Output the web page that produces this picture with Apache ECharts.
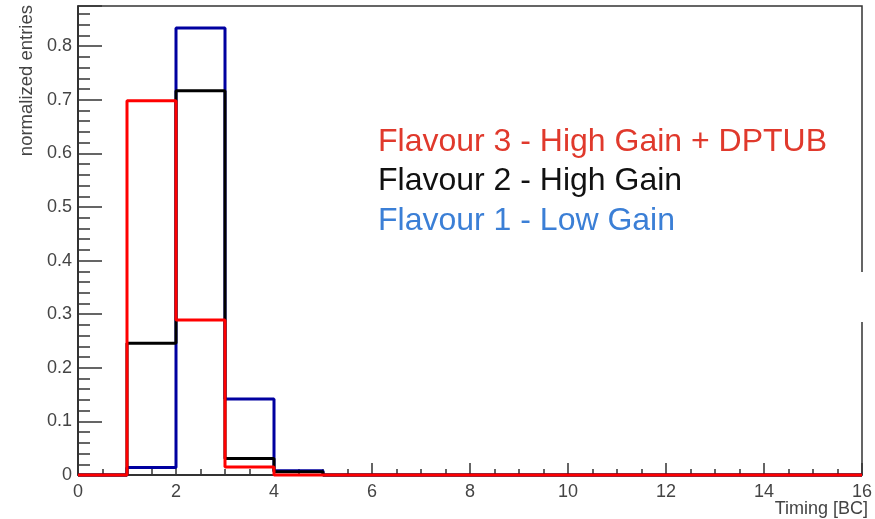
<!DOCTYPE html>
<html>
<head>
<meta charset="utf-8">
<script src="https://cdn.jsdelivr.net/npm/echarts@6/dist/echarts.min.js"></script>
<style>html,body{margin:0;padding:0;background:#fff;}#c{width:875px;height:519px;}</style>
</head>
<body>
<div id="c"></div>
<script>
// bin edges 0..16 (Timing [BC]), one value per bin
const binEdges = [0,1,2,3,4,5,6,7,8,9,10,11,12,13,14,15,16];
const flavour1 = [0, 0.014, 0.834, 0.142, 0.008, 0, 0, 0, 0, 0, 0, 0, 0, 0, 0, 0];
const flavour2 = [0, 0.246, 0.717, 0.031, 0.006, 0, 0, 0, 0, 0, 0, 0, 0, 0, 0, 0];
const flavour3 = [0, 0.698, 0.289, 0.015, 0, 0, 0, 0, 0, 0, 0, 0, 0, 0, 0, 0];
const seriesNames = ['Flavour 1 - Low Gain', 'Flavour 2 - High Gain', 'Flavour 3 - High Gain + DPTUB'];
const lineColors = ['#0000a0', '#000000', '#ff0000'];
const textColors = ['#3b7fd6', '#111111', '#e0392c'];
const xTicks = [0, 2, 4, 6, 8, 10, 12, 14, 16];
const xTitle = 'Timing [BC]';
const yTitle = 'normalized entries';

function toSteps(vals) {
  const pts = vals.map((v, i) => [binEdges[i], v]);
  pts.push([binEdges[binEdges.length - 1], vals[vals.length - 1]]);
  return pts;
}
const allVals = [flavour1, flavour2, flavour3];
const font = 'Liberation Sans, Arial, Helvetica, sans-serif';

const chart = echarts.init(document.getElementById('c'));
chart.setOption({
  animation: false,
  backgroundColor: '#fff',
  grid: { left: 78, right: 13, top: 6, bottom: 44, show: true, borderColor: '#333', borderWidth: 1.5,
    containLabel: false, outerBoundsMode: 'none' },
  legend: {
    orient: 'vertical', left: 368, top: 121, itemGap: 7.5, itemWidth: 0, itemHeight: 0, icon: 'none',
    selectedMode: false,
    textStyle: { fontSize: 32, fontFamily: font, lineHeight: 32 },
    data: [2, 1, 0].map(i => ({ name: seriesNames[i], textStyle: { color: textColors[i] } }))
  },
  xAxis: {
    type: 'value', min: 0, max: 16, interval: 2,
    axisLine: { show: true, lineStyle: { color: '#222', width: 1.5 } },
    axisTick: { show: true, inside: true, length: 12, lineStyle: { color: '#333', width: 1.5 } },
    minorTick: { show: true, splitNumber: 4, length: 6, lineStyle: { color: '#333', width: 1.5 } },
    splitLine: { show: false },
    axisLabel: { color: '#444', fontSize: 18, fontFamily: font, margin: 8,
      formatter: v => xTicks.indexOf(v) >= 0 ? String(v) : '' }
  },
  yAxis: {
    type: 'value', min: 0, max: 0.875, interval: 0.1,
    axisLine: { show: true, lineStyle: { color: '#222', width: 1.5 } },
    axisTick: { show: true, inside: true, length: 24, lineStyle: { color: '#333', width: 1.5 } },
    minorTick: { show: true, splitNumber: 5, length: 12, lineStyle: { color: '#333', width: 1.5 } },
    splitLine: { show: false },
    axisLabel: { color: '#444', fontSize: 18, fontFamily: font, margin: 6, showMaxLabel: false,
      formatter: v => v === 0 ? '0' : (Math.round(v * 10) / 10).toString() }
  },
  graphic: [
    { type: 'text', x: 17, y: 5, rotation: Math.PI / 2,
      style: { text: yTitle, fill: '#444', fontSize: 18.5, fontFamily: font, align: 'right', verticalAlign: 'top' } },
    { type: 'text', x: 868, y: 500,
      style: { text: xTitle, fill: '#444', fontSize: 18, fontFamily: font, align: 'right', verticalAlign: 'top' } },
    { type: 'rect', shape: { x: 858, y: 272, width: 10, height: 50 }, style: { fill: '#fff' }, z: 100 }
  ],
  series: allVals.map((vals, i) => ({
    name: seriesNames[i], type: 'line', step: 'end', showSymbol: false, symbol: 'none',
    clip: false, data: toSteps(vals),
    itemStyle: { color: lineColors[i] },
    lineStyle: { color: lineColors[i], width: 3 },
    z: 2 + i
  }))
});
</script>
</body>
</html>
